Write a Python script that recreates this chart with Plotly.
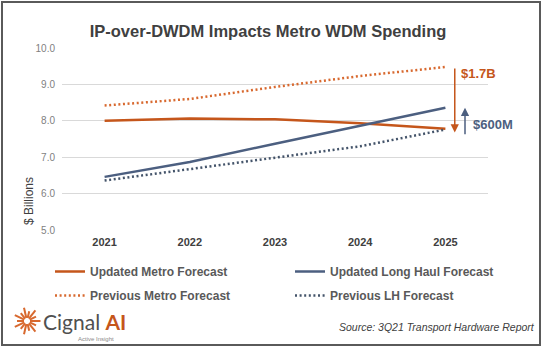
import math
import plotly.graph_objects as go

# Spending forecasts, $ billions
years = [2021, 2022, 2023, 2024, 2025]
updated_metro = [8.00, 8.06, 8.04, 7.93, 7.78]
updated_lh = [6.46, 6.87, 7.37, 7.86, 8.36]
previous_metro = [8.42, 8.60, 8.93, 9.23, 9.48]
previous_lh = [6.36, 6.68, 6.98, 7.30, 7.76]
year_labels = ["2021", "2022", "2023", "2024", "2025"]
y_ticks = [5, 6, 7, 8, 9, 10]

ORANGE = "#C5561B"
ORANGE_DOT = "#D8692F"
SLATE = "#4C5F80"
SLATE_DOT = "#44546A"
TEXT = "#404040"

W, H = 552, 348
ML, MR, MT, MB = 62, 64, 48, 118
PW, PH = W - ML - MR, H - MT - MB


def px_x(px):
    return (px - ML) / PW


def px_y(py):
    return (H - MB - py) / PH


fig = go.Figure()
fig.add_trace(go.Scatter(x=years, y=updated_metro, name="Updated Metro Forecast",
                         mode="lines", line=dict(color=ORANGE, width=2.5), legend="legend"))
fig.add_trace(go.Scatter(x=years, y=updated_lh, name="Updated Long Haul Forecast",
                         mode="lines", line=dict(color=SLATE, width=2.5), legend="legend2"))
fig.add_trace(go.Scatter(x=years, y=previous_metro, name="Previous Metro Forecast",
                         mode="lines", line=dict(color=ORANGE_DOT, width=2.5, dash="2px,2.6px"),
                         legend="legend3"))
fig.add_trace(go.Scatter(x=years, y=previous_lh, name="Previous LH Forecast",
                         mode="lines", line=dict(color=SLATE_DOT, width=2.5, dash="2px,2.6px"),
                         legend="legend4"))

# Gap arrows at the 2025 end of the forecasts
metro_gap = previous_metro[-1] - updated_metro[-1]
lh_gap = updated_lh[-1] - previous_lh[-1]
last = years[-1]

annotations = [
    dict(x=last + 0.11, y=updated_metro[-1] - 0.1, ax=last + 0.11, ay=previous_metro[-1],
         xref="x", yref="y", axref="x", ayref="y", text="", showarrow=True,
         arrowhead=2, arrowsize=1.1, arrowwidth=1.5, arrowcolor=ORANGE),
    dict(x=last + 0.16, y=9.31, xref="x", yref="y", xanchor="left", yanchor="middle",
         text=f"<b>${metro_gap:.1f}B</b>", showarrow=False,
         font=dict(size=13, color=ORANGE, family="Liberation Sans")),
    dict(x=last + 0.23, y=updated_lh[-1], ax=last + 0.23, ay=previous_lh[-1] - 0.17,
         xref="x", yref="y", axref="x", ayref="y", text="", showarrow=True,
         arrowhead=2, arrowsize=1.1, arrowwidth=1.5, arrowcolor=SLATE),
    dict(x=last + 0.30, y=7.91, xref="x", yref="y", xanchor="left", yanchor="middle",
         text=f"<b>${lh_gap * 1000:.0f}M</b>", showarrow=False,
         font=dict(size=13, color=SLATE, family="Liberation Sans")),
    # axis caption
    dict(x=px_x(29), y=px_y(201), xref="paper", yref="paper", text="$ Billions",
         textangle=-90, showarrow=False, xanchor="center", yanchor="middle",
         font=dict(size=12, color=TEXT, family="Liberation Sans")),
    # source line
    dict(x=px_x(537), y=px_y(327), xref="paper", yref="paper",
         text="<i>Source: 3Q21 Transport Hardware Report</i>", showarrow=False,
         xanchor="right", yanchor="middle",
         font=dict(size=10.5, color=TEXT, family="Liberation Sans")),
    # brand mark
    dict(x=px_x(41), y=px_y(321), xref="paper", yref="paper",
         text=f"Cignal<span style='color:{ORANGE}'> <b>AI</b></span>", showarrow=False,
         xanchor="left", yanchor="middle",
         font=dict(size=21, color="#505050", family="Lato")),
    dict(x=px_x(96), y=px_y(339), xref="paper", yref="paper",
         text="Active Insight", showarrow=False, xanchor="center", yanchor="middle",
         font=dict(size=6, color="#8a8a8a", family="Liberation Sans")),
]

shapes = [
    # outer frame
    dict(type="rect", xref="paper", yref="paper",
         x0=px_x(2), x1=px_x(540), y0=px_y(345), y1=px_y(2),
         line=dict(color="#5a5a5a", width=2), layer="above"),
]

# sunburst rays of the brand mark
cx, cy = 27, 321
for k in range(14):
    ang = 2 * math.pi * k / 14
    r0, r1 = 3.0, (13.5 if k % 2 == 0 else 10.0)
    shapes.append(dict(type="line", xref="paper", yref="paper",
                       x0=px_x(cx + r0 * math.cos(ang)), y0=px_y(cy + r0 * math.sin(ang)),
                       x1=px_x(cx + r1 * math.cos(ang)), y1=px_y(cy + r1 * math.sin(ang)),
                       line=dict(color=ORANGE_DOT, width=2)))

legend_font = dict(size=12, color="#595959", family="Liberation Sans", weight="bold")


def legend_at(px, py):
    return dict(orientation="h", x=px_x(px), y=px_y(py), xanchor="left", yanchor="top",
                font=legend_font, bgcolor="rgba(0,0,0,0)")


fig.update_layout(
    width=W, height=H,
    margin=dict(l=ML, r=MR, t=MT, b=MB),
    paper_bgcolor="white", plot_bgcolor="white",
    title=dict(text="<b>IP-over-DWDM Impacts Metro WDM Spending</b>",
               x=268 / W, xanchor="center", y=1 - 31 / H, yanchor="middle",
               font=dict(size=16.5, color=TEXT, family="Liberation Sans")),
    xaxis=dict(range=[years[0] - 0.5, years[-1] + 0.5], tickvals=years, ticktext=year_labels,
               showgrid=False, zeroline=False, showline=False, ticks="",
               ticklabelstandoff=4,
               tickfont=dict(size=11, color=TEXT, family="Liberation Sans", weight="bold")),
    yaxis=dict(range=[5, 10], tickvals=y_ticks, tickformat=".1f",
               showgrid=True, gridcolor="#D9D9D9", gridwidth=1, zeroline=False,
               showline=False, ticks="", ticklabelstandoff=6,
               tickfont=dict(size=10, color="#7F7F7F", family="Liberation Sans")),
    legend=legend_at(50, 257),
    legend2=legend_at(290, 257),
    legend3=legend_at(50, 281),
    legend4=legend_at(290, 281),
    annotations=annotations,
    shapes=shapes,
    showlegend=True,
)

fig.write_html("out.html")
